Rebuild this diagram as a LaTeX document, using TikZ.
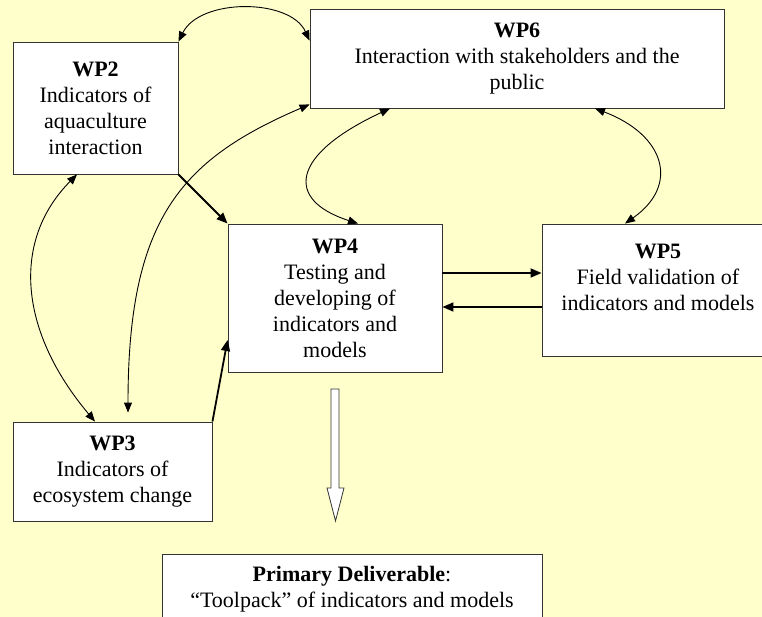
\documentclass[tikz,border=0pt]{standalone}
\usepackage{fontspec}
\setmainfont{Liberation Serif}
\usetikzlibrary{arrows.meta}
\definecolor{paper}{HTML}{FFFFCC}
\definecolor{frame}{HTML}{333333}

\begin{document}
\begin{tikzpicture}[
    x=1pt, y=-1pt,
    box/.style={draw=frame, fill=white, line width=0.9pt, inner sep=0pt,
                align=center, font=\fontsize{22}{26}\selectfont},
    link/.style={{Triangle[length=10pt,width=8pt]}-{Triangle[length=10pt,width=8pt]},
                 line width=0.9pt},
    arr/.style={-{Triangle[length=11pt,width=9pt]}, line width=1.8pt}
  ]
    \fill[paper] (0,0) rectangle (762,617);
    \useasboundingbox (0,0) rectangle (762,617);

    \node[box, minimum width=165, minimum height=132] (wp2)   at (95.5,108)   {\textbf{WP2}\\Indicators of\\aquaculture\\interaction};
    \node[box, minimum width=414, minimum height=99]  (wp6)   at (517,58.5)   {\textbf{WP6}\\Interaction with stakeholders and the\\public};
    \node[box, minimum width=214, minimum height=148] (wp4)   at (335,298)    {\textbf{WP4}\\Testing and\\developing of\\indicators and\\models};
    \node[box, minimum width=232, minimum height=132] (wp5)   at (658,290)    {\textbf{WP5}\\Field validation of\\indicators and models\\\mbox{}};
    \node[box, minimum width=199, minimum height=99]  (wp3)   at (112.5,471.5) {\textbf{WP3}\\Indicators of\\ecosystem change};
    \node[box, minimum width=380, minimum height=70]  (deliv) at (352,589)    {\textbf{Primary Deliverable}:\\``Toolpack'' of indicators and models};

    % hollow arrow to the deliverable
    \draw[frame, fill=white, line width=0.8pt]
      (331,389) -- (339,389) -- (339,488) -- (344,488) -- (335.5,521)
      -- (327,488) -- (331,488) -- cycle;

    \draw[link] (wp2.north east) .. controls (200,-2) and (290,-2) .. ([yshift=-32pt]wp6.north west);
    \draw[link] ([xshift=-18.5pt]wp2.south) .. controls (12,240) and (18,330) .. ([xshift=-17.5pt]wp3.north);
    \draw[link] ([xshift=15.5pt,yshift=9pt]wp3.north) .. controls (128,220) and (180,160) .. ([yshift=4pt]wp6.south west);
    \draw[link] ([xshift=-127pt]wp6.south) .. controls (290,155) and (285,200) .. ([xshift=23pt]wp4.north);
    \draw[link] ([xshift=78pt]wp6.south) .. controls (665,135) and (680,185) .. ([xshift=-33pt]wp5.north);

    \draw[arr] (wp2.south east) -- (wp4.north west);
    \draw[arr] (wp3.north east) -- ([yshift=-42pt]wp4.west);
    \draw[arr] ([yshift=25pt]wp4.east) -- ([yshift=25pt]wp4.east -| wp5.west);
    \draw[arr] ([yshift=-9pt]wp4.east -| wp5.west) -- ([yshift=-9pt]wp4.east);
  \end{tikzpicture}
\end{document}
